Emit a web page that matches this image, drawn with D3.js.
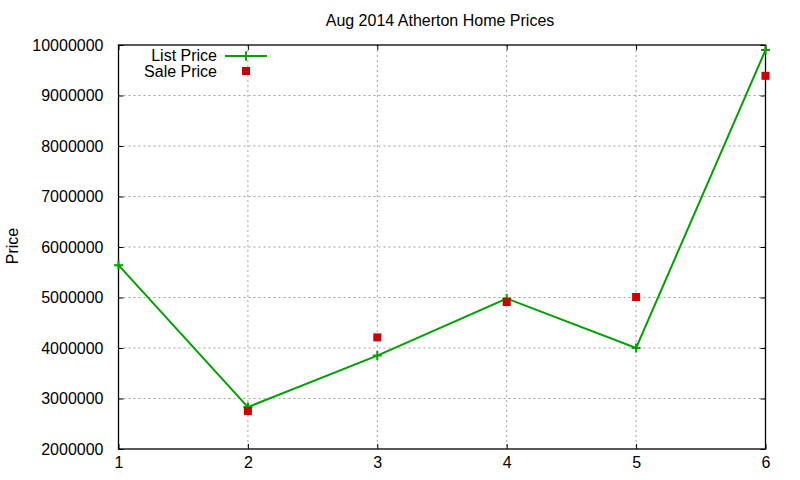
<!DOCTYPE html>
<html>
<head>
<meta charset="utf-8">
<script src="https://cdn.jsdelivr.net/npm/d3@7"></script>
<style>
  body { margin: 0; background: #fff; }
  text { font-family: "Liberation Sans", Arial, sans-serif; font-size: 16px; fill: #000; }
</style>
</head>
<body>
<div id="chart-area"></div>
<script>
// values
const months = [1, 2, 3, 4, 5, 6];
const listPrice = [5640000, 2830000, 3850000, 4980000, 4000000, 9900000];
const salePrice = [null, 2750000, 4210000, 4910000, 5010000, 9390000];
const yTicks = [2000000, 3000000, 4000000, 5000000, 6000000, 7000000, 8000000, 9000000, 10000000];

const width = 800, height = 480;
const margin = {top: 45, right: 34.5, bottom: 31, left: 118.5};
const w = width - margin.left - margin.right;
const h = height - margin.top - margin.bottom;

const svg = d3.select("#chart-area").append("svg")
    .attr("width", width)
    .attr("height", height);

const g = svg.append("g")
    .attr("transform", "translate(" + margin.left + "," + margin.top + ")");

const x = d3.scaleLinear().domain([1, 6]).range([0, w]);
const y = d3.scaleLinear().domain([2000000, 10000000]).range([h, 0]);

// grid
g.append("g").selectAll("line.hgrid")
    .data(yTicks.slice(1, -1))
    .enter().append("line")
    .attr("x1", 0).attr("x2", w)
    .attr("y1", d => y(d)).attr("y2", d => y(d))
    .attr("stroke", "#a0a0a0").attr("stroke-width", 1)
    .attr("stroke-dasharray", "2,3");

g.append("g").selectAll("line.vgrid")
    .data(months.slice(1, -1))
    .enter().append("line")
    .attr("x1", d => x(d)).attr("x2", d => x(d))
    .attr("y1", 0).attr("y2", h)
    .attr("stroke", "#a0a0a0").attr("stroke-width", 1)
    .attr("stroke-dasharray", "2,3");

// axes (gnuplot style: inward ticks, mirrored)
const styleAxis = sel => {
    sel.select(".domain").remove();
    sel.selectAll(".tick line").attr("stroke", "#000");
};

g.append("g")
    .attr("transform", "translate(0," + h + ")")
    .call(d3.axisBottom(x).tickValues(months).tickFormat(d3.format("d")).tickSizeInner(-5).tickPadding(8))
    .call(styleAxis)
    .selectAll("text").style("font-size", "16px").attr("font-family", null);

g.append("g")
    .call(d3.axisTop(x).tickValues(months).tickSizeInner(-5).tickFormat(""))
    .call(styleAxis);

g.append("g")
    .call(d3.axisLeft(y).tickValues(yTicks).tickFormat(d3.format("d")).tickSizeInner(-5).tickPadding(15))
    .call(styleAxis)
    .selectAll("text").style("font-size", "16px").attr("font-family", null);

g.append("g")
    .attr("transform", "translate(" + w + ",0)")
    .call(d3.axisRight(y).tickValues(yTicks).tickSizeInner(-5).tickFormat(""))
    .call(styleAxis);

g.selectAll(".tick text").attr("fill", "#000");

// border
g.append("rect")
    .attr("width", w).attr("height", h)
    .attr("fill", "none").attr("stroke", "#000").attr("stroke-width", 1.3);

// list price line + plus markers
const green = "#00a000", red = "#cc0000";
const line = d3.line()
    .x((d, i) => x(months[i]))
    .y(d => y(d));

g.append("path")
    .datum(listPrice)
    .attr("d", line)
    .attr("fill", "none")
    .attr("stroke", green)
    .attr("stroke-width", 2);

g.selectAll(".plus")
    .data(listPrice)
    .enter().append("path")
    .attr("class", "plus")
    .attr("d", "M-4.5,0H4.5M0,-4.5V4.5")
    .attr("transform", (d, i) => "translate(" + x(months[i]) + "," + y(d) + ")")
    .attr("stroke", green).attr("stroke-width", 2).attr("fill", "none");

// sale price squares
g.selectAll(".sale")
    .data(salePrice.map((v, i) => ({m: months[i], v: v})).filter(d => d.v !== null))
    .enter().append("rect")
    .attr("class", "sale")
    .attr("x", d => x(d.m) - 4)
    .attr("y", d => y(d.v) - 4)
    .attr("width", 8).attr("height", 8)
    .attr("fill", red);

// title and label
svg.append("text")
    .attr("x", 440).attr("y", 26)
    .attr("text-anchor", "middle")
    .text("Aug 2014 Atherton Home Prices");

svg.append("text")
    .attr("transform", "translate(18,246) rotate(-90)")
    .attr("text-anchor", "middle")
    .text("Price");

// legend
const legend = svg.append("g");
legend.append("text")
    .attr("x", 217).attr("y", 61)
    .attr("text-anchor", "end")
    .text("List Price");
legend.append("line")
    .attr("x1", 225).attr("x2", 267)
    .attr("y1", 56).attr("y2", 56)
    .attr("stroke", green).attr("stroke-width", 2);
legend.append("path")
    .attr("d", "M-4.5,0H4.5M0,-4.5V4.5")
    .attr("transform", "translate(246,56)")
    .attr("stroke", green).attr("stroke-width", 2);

legend.append("text")
    .attr("x", 217).attr("y", 77)
    .attr("text-anchor", "end")
    .text("Sale Price");
legend.append("rect")
    .attr("x", 242).attr("y", 67)
    .attr("width", 8).attr("height", 8)
    .attr("fill", red);
</script>
</body>
</html>
